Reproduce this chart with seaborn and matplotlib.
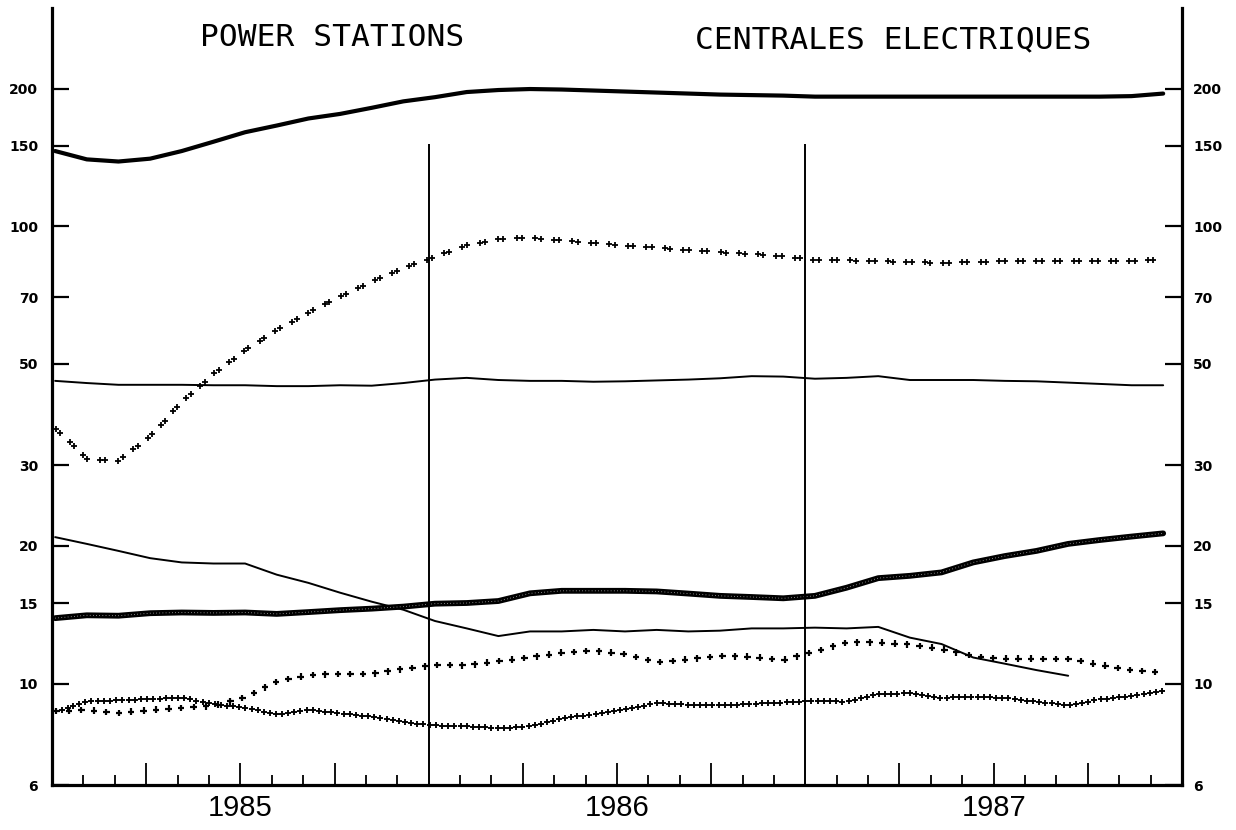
import numpy as np
import matplotlib
matplotlib.use("Agg")
import matplotlib.pyplot as plt
import seaborn as sns
from matplotlib.patheffects import AbstractPathEffect
from matplotlib.path import Path
from matplotlib.transforms import IdentityTransform
from matplotlib.ticker import NullLocator

# ---------------- data ----------------
title_en = "POWER STATIONS"
title_fr = "CENTRALES ELECTRIQUES"
years = ["1985", "1986", "1987"]
y_ticks = [6, 10, 15, 20, 30, 50, 70, 100, 150, 200]

# thick solid line (top)
s_total = [146, 140, 138.5, 140.5, 146, 153, 160.5, 166, 172, 176, 181.5, 187.5,
           191.5, 196.5, 198.5, 199.5, 199, 198, 197, 196, 195, 194, 193.5, 193,
           192, 192, 192, 192, 192, 192, 192, 192, 192, 192, 192.5, 195]
# double-plus markers
s_dplus = [36.3, 31.0, 30.7, 34.7, 41.3, 47.5, 53.7, 59.3, 64.7, 70.2, 75.6, 80.9,
           85.8, 90.8, 93.7, 94.5, 93.0, 92.0, 90.8, 89.8, 88.6, 87.7, 87.0, 85.9,
           84.4, 84.2, 83.9, 83.5, 83.1, 83.5, 83.8, 84.1, 84.0, 83.7, 83.9, 84.6]
# thin solid line (~46)
s_thin_hi = [45.9, 45.4, 45.0, 45.0, 45.0, 44.9, 44.9, 44.7, 44.7, 44.9, 44.8, 45.4,
             46.2, 46.6, 46.1, 45.9, 45.9, 45.7, 45.8, 46.0, 46.2, 46.5, 47.0, 46.9,
             46.4, 46.6, 47.0, 46.1, 46.1, 46.1, 45.9, 45.8, 45.5, 45.2, 44.9, 44.9]
# thin solid line (declining, ends early)
s_thin_lo = [20.9, 20.2, 19.5, 18.8, 18.4, 18.3, 18.3, 17.3, 16.6, 15.8, 15.1, 14.5,
             13.7, 13.2, 12.7, 13.0, 13.0, 13.1, 13.0, 13.1, 13.0, 13.05, 13.2, 13.2,
             13.25, 13.2, 13.3, 12.6, 12.2, 11.4, 11.05, 10.7, 10.4, np.nan, np.nan, np.nan]
# thick hatched line
s_hatch = [13.9, 14.1, 14.07, 14.25, 14.3, 14.27, 14.3, 14.2, 14.33, 14.47, 14.58, 14.73,
           14.95, 15.0, 15.15, 15.75, 15.95, 15.95, 15.95, 15.9, 15.73, 15.55, 15.46, 15.36,
           15.55, 16.2, 17.0, 17.2, 17.5, 18.4, 19.0, 19.5, 20.2, 20.6, 20.96, 21.3]
# sparse plus markers
s_splus = [8.71, 8.75, 8.63, 8.75, 8.85, 8.93, 9.33, 10.1, 10.44, 10.5, 10.5, 10.76,
           10.98, 10.95, 11.2, 11.4, 11.68, 11.8, 11.6, 11.13, 11.3, 11.5, 11.44, 11.26,
           11.75, 12.3, 12.3, 12.17, 11.9, 11.48, 11.33, 11.33, 11.32, 10.99, 10.7, 10.58]
# dense plus markers
s_dense = [8.68, 9.13, 9.2, 9.25, 9.31, 9.02, 8.85, 8.56, 8.75, 8.61, 8.46, 8.23,
           8.1, 8.07, 7.98, 8.06, 8.38, 8.57, 8.78, 9.06, 8.99, 8.96, 9.03, 9.09,
           9.16, 9.13, 9.48, 9.52, 9.3, 9.37, 9.3, 9.13, 8.96, 9.23, 9.4, 9.62]

year_breaks = [12, 24]
divider_top = 151

# position of each observation, in months since January 1985
t = np.linspace(0.1, 35.4, len(s_total))


# ---------------- marker trail path effect ----------------
class PlusTrail(AbstractPathEffect):
    """Draws '+' signs at regular distances along a line."""

    def __init__(self, spacing, size, width, pair_gap=None, start=0.3):
        super().__init__()
        self.spacing = spacing
        self.size = size
        self.width = width
        self.pair_gap = pair_gap
        self.start = start

    def draw_path(self, renderer, gc, tpath, affine, rgbFace=None):
        pts = affine.transform(tpath.vertices)
        pts = pts[np.isfinite(pts).all(axis=1)]
        if len(pts) < 2:
            return
        k = renderer.dpi / 100.0
        d = np.hypot(*np.diff(pts, axis=0).T)
        cum = np.concatenate([[0.0], np.cumsum(d)])
        sp = self.spacing * k
        s = np.arange(sp * self.start, cum[-1] + 1e-6, sp)
        if self.pair_gap:
            s = np.concatenate([s, s + self.pair_gap * k])
            s = s[s <= cum[-1] + 1e-6]
        xs = np.interp(s, cum, pts[:, 0])
        ys = np.interp(s, cum, pts[:, 1])
        h = self.size * k / 2
        verts, codes = [], []
        for x, y in zip(xs, ys):
            verts += [(x - h, y), (x + h, y), (x, y - h), (x, y + h)]
            codes += [Path.MOVETO, Path.LINETO, Path.MOVETO, Path.LINETO]
        path = Path(np.array(verts), codes)
        gc0 = renderer.new_gc()
        gc0.copy_properties(gc)
        gc0.set_linewidth(self.width * 0.72)
        gc0.set_dashes(0, None)
        gc0.set_capstyle("butt")
        renderer.draw_path(gc0, path, IdentityTransform())
        gc0.restore()


# ---------------- figure ----------------
sns.set_theme(style="white")
plt.rcParams["font.family"] = ["DejaVu Sans"]

W, H = 1236, 830
fig = plt.figure(figsize=(W / 100, H / 100), dpi=100)
ax = fig.add_axes([52 / W, 1 - 785 / H, 1130 / W, 777 / H])

ax.set_yscale("log")
ax.set_ylim(6, 300)
ax.set_xlim(0, 36)

# thick top line
sns.lineplot(x=t, y=s_total, ax=ax, color="black", linewidth=3.0, legend=False,
             estimator=None, sort=False)
# thin lines
sns.lineplot(x=t, y=s_thin_hi, ax=ax, color="black", linewidth=1.4, legend=False,
             estimator=None, sort=False)
sns.lineplot(x=t, y=s_thin_lo, ax=ax, color="black", linewidth=1.4, legend=False,
             estimator=None, sort=False)
# hatched thick line
sns.lineplot(x=t, y=s_hatch, ax=ax, color="black", linewidth=4.2, legend=False,
             estimator=None, sort=False)
sns.lineplot(x=t, y=s_hatch, ax=ax, color="#d8d8d8", linewidth=0.6, legend=False,
             estimator=None, sort=False, dashes=False, linestyle=(0, (0.8, 3.0)))
# marker trails
sns.lineplot(x=t, y=s_dplus, ax=ax, color="black", linewidth=1.0, legend=False,
             estimator=None, sort=False,
             path_effects=[PlusTrail(spacing=18.6, size=6.0, width=1.8, pair_gap=5.5, start=0.1)])
sns.lineplot(x=t, y=s_splus, ax=ax, color="black", linewidth=1.0, legend=False,
             estimator=None, sort=False,
             path_effects=[PlusTrail(spacing=12.5, size=6.5, width=2.2, start=0.1)])
sns.lineplot(x=t, y=s_dense, ax=ax, color="black", linewidth=1.0, legend=False,
             estimator=None, sort=False,
             path_effects=[PlusTrail(spacing=6.2, size=6.0, width=1.9, start=0.1)])

# year dividers
ax.vlines(year_breaks, 6, divider_top, color="black", linewidth=1.4)

# spines
for side in ["left", "right", "bottom"]:
    ax.spines[side].set_visible(True)
    ax.spines[side].set_color("black")
    ax.spines[side].set_linewidth(2.3)
ax.spines["top"].set_visible(False)

# y ticks, both sides
ax.set_yticks(y_ticks, labels=[str(v) for v in y_ticks])
ax.yaxis.set_minor_locator(NullLocator())
ax.tick_params(axis="y", which="major", left=True, right=False, direction="in",
               length=12, width=1.6, pad=10, labelsize=10, colors="black")
for lab in ax.get_yticklabels():
    lab.set_fontweight("heavy")

ax2 = ax.twinx()
ax2.set_yscale("log")
ax2.set_ylim(6, 300)
ax2.set_yticks(y_ticks, labels=[str(v) for v in y_ticks])
ax2.yaxis.set_minor_locator(NullLocator())
ax2.tick_params(axis="y", which="major", left=False, right=True, direction="in",
                length=12, width=1.6, pad=8, labelsize=10, colors="black")
for lab in ax2.get_yticklabels():
    lab.set_fontweight("heavy")
for side in ax2.spines:
    ax2.spines[side].set_visible(False)
ax2.grid(False)

# x ticks: months (minor) and quarters (major), inside
months = [m for m in range(1, 36) if m % 3 != 0]
quarters = [m for m in range(3, 36, 3) if m % 12 != 0]
ax.set_xticks(quarters)
ax.set_xticks(months, minor=True)
ax.set_xticklabels([])
ax.tick_params(axis="x", which="major", bottom=True, direction="in", length=16,
               width=1.3, colors="black")
ax.tick_params(axis="x", which="minor", bottom=True, direction="in", length=7.5,
               width=1.3, colors="black")
ax.grid(False)

# year labels
for i, yr in enumerate(years):
    ax.text(6 + 12 * i, -0.0296, yr, transform=ax.get_xaxis_transform(),
            ha="center", va="center", fontsize=21, family="Liberation Sans",
            color="black")

# titles
fig.text(200 / W, 1 - 37 / H, title_en, ha="left", va="center",
         family="DejaVu Sans Mono", fontsize=22.5, color="black")
fig.text(695 / W, 1 - 40 / H, title_fr, ha="left", va="center",
         family="DejaVu Sans Mono", fontsize=22.5, color="black")

fig.savefig("out.png", dpi=100, facecolor="white")
